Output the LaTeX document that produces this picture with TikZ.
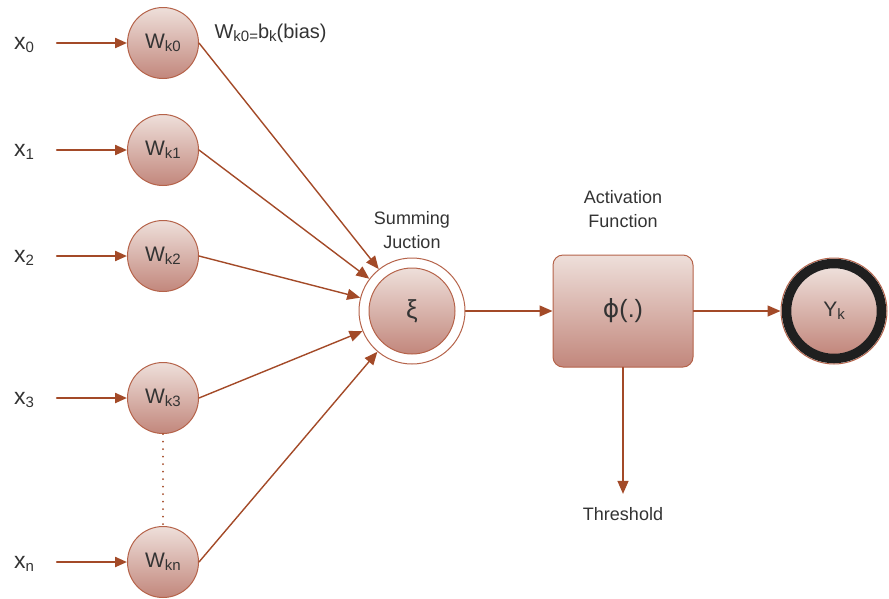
\documentclass[tikz,border=0pt]{standalone}
\usepackage{fontspec}
\setmainfont{Liberation Sans}
\newfontfamily\symfont{DejaVu Sans}
\usetikzlibrary{positioning,arrows.meta}
\definecolor{wire}{HTML}{A34A28}
\definecolor{rim}{HTML}{B5634A}
\definecolor{topfill}{HTML}{EEDFDA}
\definecolor{botfill}{HTML}{C2877C}
\definecolor{ink}{HTML}{333333}
\newcommand{\lowidx}[1]{\raisebox{-0.3ex}{\fontsize{15}{15}\selectfont #1}}

\begin{document}
\begin{tikzpicture}[x=1pt, y=-1pt, line cap=round]
  % styles
  \tikzset{
    wnode/.style={circle, draw=rim, line width=1pt, top color=topfill, bottom color=botfill,
      minimum size=71, inner sep=0pt, text=ink, font=\fontsize{21}{21}\selectfont},
    link/.style={draw=wire, line width=1.4pt, -{Triangle[length=13pt,width=11pt]}},
    feed/.style={link, line width=2.2pt, -{Triangle[length=12pt,width=10pt]}},
    lbl/.style={text=ink, font=\fontsize{18}{24}\selectfont, align=center}
  }
  \useasboundingbox (0,0) rectangle (889,598);
  % summing junction
  \node[circle, draw=rim, line width=1pt, minimum size=106, inner sep=0pt] (sumout) at (412,311) {};
  \node[wnode, minimum size=86, font=\fontsize{26}{26}\selectfont] (sum) at (sumout) {ξ};
  \node[lbl] (sumtxt) at (412,230) {Summing\\Juction};
  % inputs and weights
  \foreach \i/\y/\t in {0/43/0, 1/150/1, 2/256/2, 3/398/3, 4/562/n} {
    \node[wnode] (w\i) at (163,\y) {W\lowidx{k\t}};
    \node[text=ink, font=\fontsize{23}{23}\selectfont] (x\i) at (24,\y+2) {x\lowidx{\t}};
    \coordinate (in\i) at (57,\y);
    \draw[feed] (in\i) -- (w\i);
    \draw[link] (w\i.east) -- (sumout);
  }
  \draw[wire, line width=2pt, dash pattern=on 0pt off 7.5pt] (w3.south) -- (w4.north);
  \node[text=ink, font=\fontsize{20}{20}\selectfont, anchor=west] (bias) at (211,33) {W\lowidx{k0=}b\lowidx{k}(bias)};
  % activation
  \node[draw=rim, line width=1pt, rounded corners=10pt, top color=topfill, bottom color=botfill,
    minimum width=140, minimum height=112, text=ink, font=\fontsize{25}{25}\selectfont] (act) at (623,311) {{\symfont ϕ}(.)};
  \node[lbl] (acttxt) at (623,209) {Activation\\Function};
  \node[lbl] (thr) at (623,514) {Threshold};
  % output
  \node[circle, draw=rim, line width=1pt, minimum size=106, inner sep=0pt] (yout) at (834,311) {};
  \node[wnode, minimum size=86, draw=none] (yk) at (yout) {Y\lowidx{k}};
  \draw[black!88, line width=9.5pt] (yout) circle (47.5);
  % arrows
  \draw[link] (sumout) -- (act);
  \draw[link] (act) -- (yout);
  \draw[link] (act) -- ([yshift=10pt]thr.north);
\end{tikzpicture}
\end{document}
